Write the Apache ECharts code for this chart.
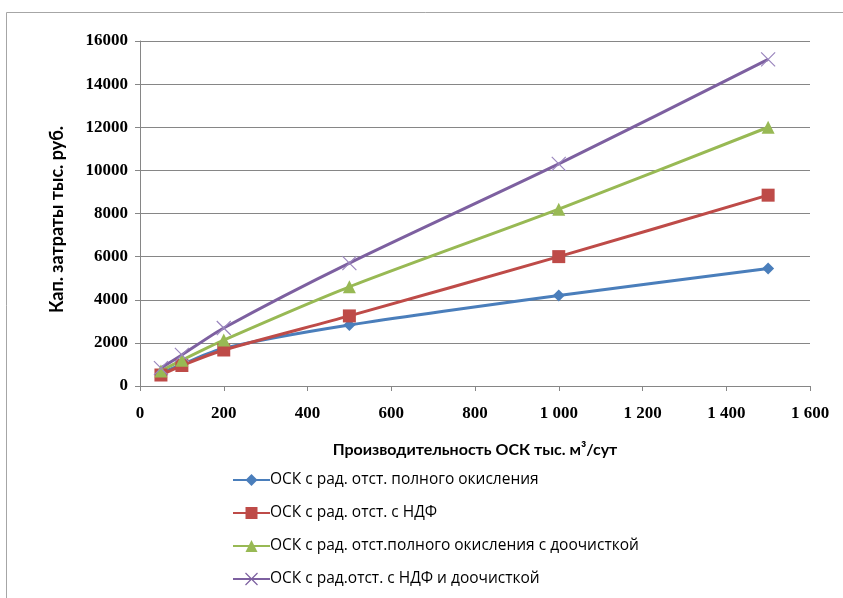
<!DOCTYPE html>
<html>
<head>
<meta charset="utf-8">
<script src="https://cdn.jsdelivr.net/npm/echarts@6/dist/echarts.min.js"></script>
<style>
  html, body { margin: 0; padding: 0; background: #fff; }
  #chart { width: 843px; height: 598px; }
</style>
</head>
<body>
<div id="chart"></div>
<script>
// Производительность ОСК, тыс. м3/сут
const xValues = [50, 100, 200, 500, 1000, 1500];

const seriesNames = [
    'ОСК с рад. отст. полного окисления',
    'ОСК с рад. отст. с НДФ',
    'ОСК с рад. отст.полного окисления с доочисткой',
    'ОСК с рад.отст. с НДФ и доочисткой'
];

const polnoeOkisl = [600, 1000, 1750, 2830, 4200, 5450];
const sNdf = [510, 950, 1670, 3250, 6000, 8850];
const polnoeDoochistka = [700, 1200, 2130, 4600, 8200, 12000];
const ndfDoochistka = [830, 1440, 2690, 5700, 10300, 15150];

const colors = ['#4A7EBB', '#BE4B48', '#98B954', '#7D60A0'];
const symbols = ['diamond', 'rect', 'triangle', 'path://M0,0L10,10M10,0L0,10'];
const symbolSizes = [12, 13, 13, 14];

function fmtThousands(v) {
    return String(v).replace(/\B(?=(\d{3})+(?!\d))/g, ' ');
}

const chart = echarts.init(document.getElementById('chart'));

const allData = [polnoeOkisl, sNdf, polnoeDoochistka, ndfDoochistka];

const series = allData.map((vals, i) => ({
    name: seriesNames[i],
    type: 'line',
    smooth: 0.25,
    data: xValues.map((x, j) => [x, vals[j]]),
    symbol: symbols[i],
    symbolSize: symbolSizes[i],
    lineStyle: { width: 3, color: colors[i] },
    itemStyle: i === 3
        ? { color: 'rgba(0,0,0,0)', borderColor: '#9A86BE', borderWidth: 1.2 }
        : { color: colors[i] }
}));

chart.setOption({
    animation: false,
    graphic: [{
        type: 'rect',
        shape: { x: 6.5, y: 12.5, width: 850, height: 600 },
        style: { fill: 'none', stroke: '#a6a6a6', lineWidth: 1 }
    }],
    legend: {
        orient: 'vertical',
        left: 227,
        top: 467,
        itemGap: 17,
        itemWidth: 37,
        itemHeight: 15,
        textStyle: { fontFamily: 'Open Sans', fontSize: 15.5, color: '#000', padding: [0, 0, 0, -5] },
        data: seriesNames.map((n, i) => ({
            name: n,
            itemStyle: i === 3 ? { color: 'rgba(0,0,0,0)', borderColor: colors[3], borderWidth: 1.2 } : undefined
        }))
    },
    grid: { left: 140, right: 33, top: 41, bottom: 212 },
    xAxis: {
        type: 'value',
        min: 0,
        max: 1600,
        interval: 200,
        name: 'Производительность ОСК тыс. м³/сут',
        nameLocation: 'middle',
        nameGap: 56,
        nameTextStyle: { fontFamily: 'Lato', fontWeight: 'bold', fontSize: 16, color: '#000' },
        axisLine: { show: true, lineStyle: { color: '#868686', width: 1 } },
        axisTick: { show: true, length: 5, lineStyle: { color: '#868686' } },
        splitLine: { show: false },
        axisLabel: {
            margin: 19,
            fontFamily: 'Liberation Serif',
            fontWeight: 'bold',
            fontSize: 17,
            color: '#000',
            formatter: v => fmtThousands(v)
        }
    },
    yAxis: {
        type: 'value',
        min: 0,
        max: 16000,
        interval: 2000,
        name: 'Кап. затраты тыс. руб.',
        nameLocation: 'middle',
        nameGap: 74,
        nameRotate: 90,
        nameTextStyle: { fontFamily: 'Lato', fontWeight: 'bold', fontSize: 18, color: '#000', padding: [0, 12, 0, 0] },
        axisLine: { show: true, lineStyle: { color: '#868686', width: 1 } },
        axisTick: { show: true, length: 5, lineStyle: { color: '#868686' } },
        splitLine: { show: true, lineStyle: { color: '#868686', width: 1 } },
        axisLabel: {
            margin: 12,
            fontFamily: 'Liberation Serif',
            fontWeight: 'bold',
            fontSize: 17,
            color: '#000',
            formatter: v => String(v)
        }
    },
    series: series
});
</script>
</body>
</html>
